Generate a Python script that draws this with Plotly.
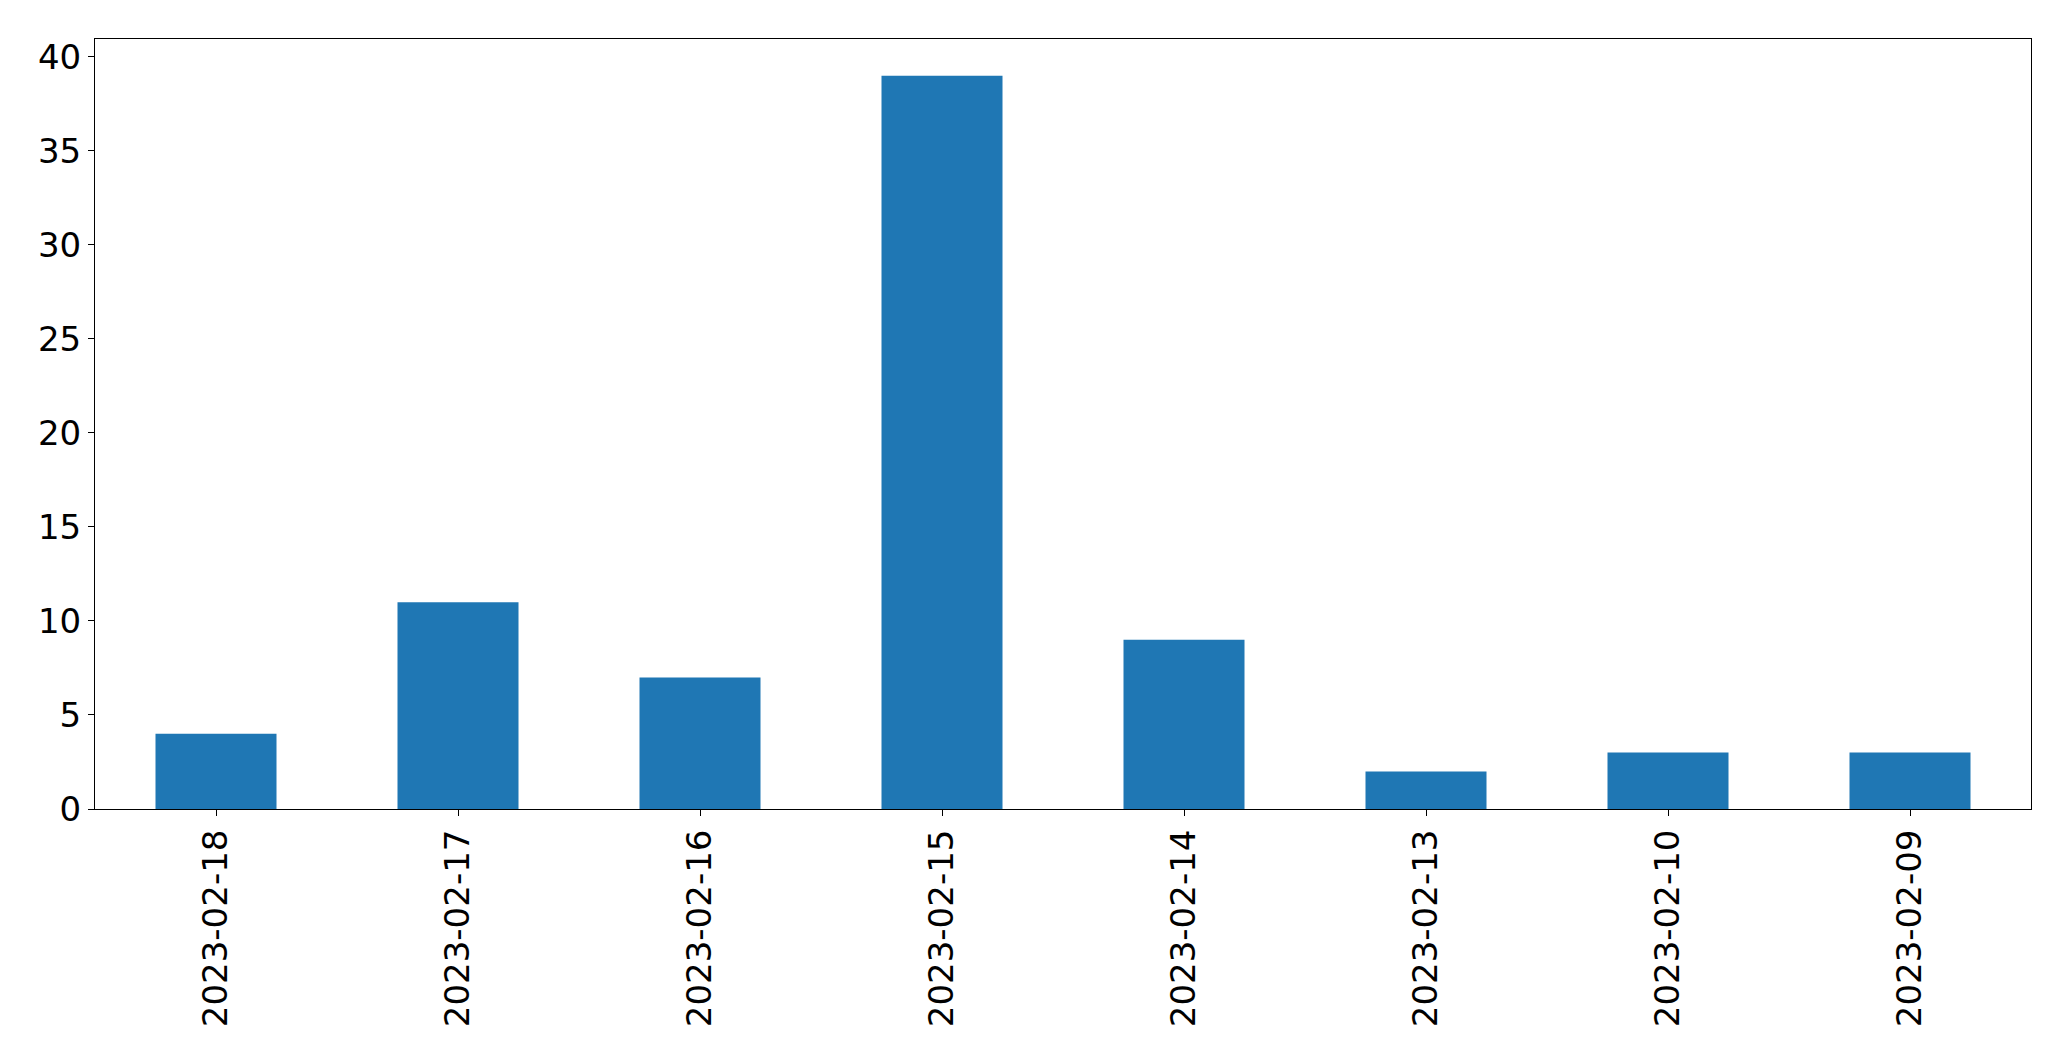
import plotly.graph_objects as go

dates = ["2023-02-18", "2023-02-17", "2023-02-16", "2023-02-15",
         "2023-02-14", "2023-02-13", "2023-02-10", "2023-02-09"]
counts = [4, 11, 7, 39, 9, 2, 3, 3]
y_ticks = [0, 5, 10, 15, 20, 25, 30, 35, 40]

fig = go.Figure(go.Bar(x=dates, y=counts, width=0.5,
                       marker=dict(color="#1f77b4", line=dict(width=0))))

font = dict(family="DejaVu Sans", size=34, color="black")
# page body has an 8px margin; figure sized to fit inside the window
fig.update_layout(
    width=2055, height=1045,
    margin=dict(l=87, r=32, t=31, b=244),
    paper_bgcolor="white", plot_bgcolor="white",
    showlegend=False,
    font=font,
)
fig.update_xaxes(type="category", range=[-0.5, 7.5], tickangle=-90,
                 showline=True, linecolor="black", linewidth=1, mirror=True,
                 ticks="outside", ticklen=6, tickcolor="black", tickwidth=1,
                 showgrid=False, zeroline=False, tickfont=font)
fig.update_yaxes(range=[0, 40.95], tickvals=y_ticks,
                 showline=True, linecolor="black", linewidth=1, mirror=True,
                 ticks="outside", ticklen=6, tickcolor="black", tickwidth=1,
                 showgrid=False, zeroline=False, tickfont=font)
fig.write_html("out.html")
